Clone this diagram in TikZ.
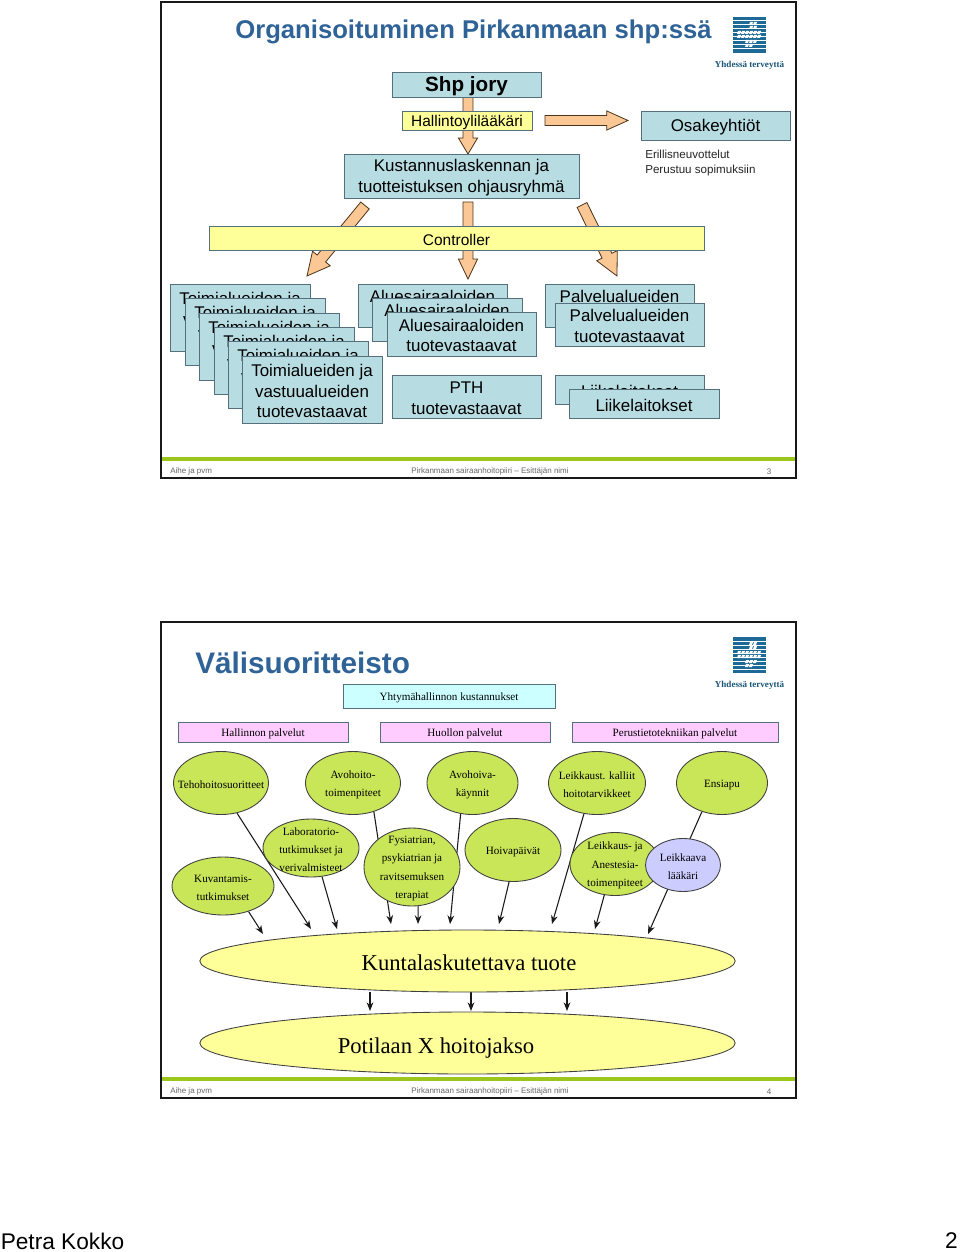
\documentclass[tikz,border=0pt]{standalone}
\usepackage{fontspec}
\setmainfont{Liberation Sans}
\newfontfamily\serifx{Liberation Serif}
\usetikzlibrary{shapes.geometric,arrows.meta,calc}
\pgfdeclarelayer{back}
\pgfsetlayers{back,main}
\definecolor{tealbox}{HTML}{B7DDE2}
\definecolor{boxedge}{HTML}{54707C}
\definecolor{yellowbox}{HTML}{FFFF99}
\definecolor{orangearrow}{HTML}{FAC795}
\definecolor{titleblue}{HTML}{2F6397}
\definecolor{logoblue}{HTML}{1E6A96}
\definecolor{barGreen}{HTML}{9CC61B}
\definecolor{ellgreen}{HTML}{C8E658}
\definecolor{lilac}{HTML}{CCCCFF}
\definecolor{pinkbox}{HTML}{FFCCFF}
\definecolor{cyanbox}{HTML}{CCFFFF}
\newcommand{\tealfont}{\fontsize{12.7}{15.4}\selectfont}
\newcommand{\yellfont}{\fontsize{11.6}{14}\selectfont}
\newcommand{\thinserif}{\serifx\fontsize{8.35}{10}\selectfont}
\tikzset{
  x=.75pt,y=-.75pt,
  boxshape/.style={draw=boxedge,line width=.65pt,rectangle,inner sep=0pt},
  boxtext/.style={inner sep=0pt,align=center,text=black},
  ovaltext/.style={align=center,inner sep=0pt,font=\serifx\fontsize{8.35}{13.8}\selectfont},
  oval/.style={draw=black!75,line width=.65pt,ellipse,inner sep=0pt,fill=ellgreen},
  bigoval/.style={draw=black!75,line width=.65pt,ellipse,inner sep=0pt,fill=yellowbox},
  bigtext/.style={inner sep=0pt,font=\serifx\fontsize{17}{20}\selectfont},
  thinarrow/.style={draw=black!90,line width=.8pt,-{Stealth[length=6.5pt,width=5pt]}},
  blockarrow/.style={draw=black!60!brown,line width=.6pt,fill=orangearrow},
  frame/.style={draw=black!90,line width=1.5pt},
  foot/.style={inner sep=0pt,text=black!60,font=\fontsize{6}{7}\selectfont},
  smalltext/.style={inner sep=0pt,anchor=base west,font=\fontsize{8.7}{10.5}\selectfont,text=black!85},
  logotext/.style={inner sep=0pt,text=logoblue!80!black,font=\serifx\bfseries\fontsize{6.8}{8}\selectfont}
}
% name, x1,y1,x2,y2, fill, font, text
\newcommand{\rbox}[8]{\node[boxshape,fill=#6,minimum width={(#4-#2)*.75pt},minimum height={(#5-#3)*.75pt}] (#1) at ({(#2+#4)/2},{(#3+#5)/2}) {};
  \node[boxtext,font=#7] (#1-t) at ({(#2+#4)/2},{(#3+#5)/2+1.6}) {#8};}
\newcommand{\ovalnode}[7]{\node[#6,minimum width={#4*.75pt},minimum height={#5*.75pt}] (#1) at (#2,#3) {};\node[ovaltext] (#1-t) at (#2,#3+1.6) {#7};}
% tail, tip, half shaft, half head, head length
\newcommand{\blockarr}[5]{\coordinate (H) at ($(#2)!#5!(#1)$);
  \path[blockarrow] ($(#1)!#3!90:(#2)$) -- ($(H)!#3!-90:(#1)$) -- ($(H)!#4!-90:(#1)$) -- (#2) -- ($(H)!#4!90:(#1)$) -- ($(H)!#3!90:(#1)$) -- ($(#1)!#3!-90:(#2)$) -- cycle;}
\newcommand{\logomark}[2]{%
  \fill[logoblue] (#1,#2) rectangle ++(33,36);
  \foreach \yy in {3.5,7.5,...,33.5}{\fill[white] (#1,#2+\yy) rectangle ++(33,.8);}
  \foreach \px/\py in {17/5,21/5,17/9,21/9,5/14,9/14,13/14,17/14,21/14,25/14,5/18,9/18,13/18,17/18,21/18,25/18,13/23,17/23,21/23,13/27,17/27}{
    \fill[white] (#1+\px,#2+\py) -- ++(3,0) -- ++(-1,3) -- ++(-3,0) -- cycle;}
  \node[logotext] at (#1+16.5,#2+48) {Yhdessä terveyttä};}
\begin{document}
\begin{tikzpicture}
\useasboundingbox (0,0) rectangle (960,1252);
\begin{pgfonlayer}{back}
\fill[white] (0,0) rectangle (960,1252);
\fill[barGreen] (162,457) rectangle (795,461);
\fill[barGreen] (162,1077) rectangle (795,1081);
\end{pgfonlayer}

% ---------- slide 1
\draw[frame] (161,2) rectangle (796,478);
\node[inner sep=0pt,text=titleblue,font=\bfseries\fontsize{19.25}{23}\selectfont] (title1) at (473.5,32) {Organisoituminen Pirkanmaan shp:ssä};
\logomark{733}{17}

\rbox{shp}{392}{72}{541}{97}{tealbox}{\bfseries\fontsize{15.5}{18}\selectfont}{Shp jory}
\rbox{hall}{402}{111}{532}{130}{yellowbox}{\yellfont}{Hallintoylilääkäri}
\rbox{osak}{641}{111}{790}{140}{tealbox}{\tealfont}{Osakeyhtiöt}
\rbox{kust}{344}{154}{579}{198}{tealbox}{\tealfont}{Kustannuslaskennan ja\\tuotteistuksen ohjausryhmä}
\rbox{ctrl}{209}{226}{704}{250}{yellowbox}{\yellfont}{Controller}
\node[smalltext] (eri) at (645,159) {Erillisneuvottelut};
\node[smalltext] (per) at (645,173) {Perustuu sopimuksiin};

\coordinate (s1) at (468,97);   \coordinate (e1) at (468,154);
\coordinate (s2) at (545,120.5);\coordinate (e2) at (628,120.5);
\coordinate (s3) at (468,202);  \coordinate (e3) at (468,279);
\coordinate (s4) at (365,205.5);\coordinate (e4) at (307,276);
\coordinate (s5) at (582,205);  \coordinate (e5) at (617,276);
\begin{pgfonlayer}{back}
\blockarr{s1}{e1}{3.7pt}{7.2pt}{12pt}
\blockarr{s2}{e2}{3.7pt}{7.2pt}{16pt}
\blockarr{s3}{e3}{3.7pt}{7.2pt}{15pt}
\blockarr{s4}{e4}{4.1pt}{8.6pt}{17pt}
\blockarr{s5}{e5}{4.1pt}{8.6pt}{17pt}
\end{pgfonlayer}

\newcommand{\toimi}{Toimialueiden ja\\vastuualueiden\\tuotevastaavat}
\rbox{t1}{170}{284}{310}{351}{tealbox}{\tealfont}{\toimi}
\rbox{t2}{185}{298}{325}{365}{tealbox}{\tealfont}{\toimi}
\rbox{t3}{199}{313}{339}{380}{tealbox}{\tealfont}{\toimi}
\rbox{t4}{214}{327}{354}{394}{tealbox}{\tealfont}{\toimi}
\rbox{t5}{228}{341}{368}{408}{tealbox}{\tealfont}{\toimi}
\rbox{t6}{242}{356}{382}{423}{tealbox}{\tealfont}{\toimi}
\newcommand{\alue}{Aluesairaaloiden\\tuotevastaavat}
\rbox{a1}{358}{284}{507}{327}{tealbox}{\tealfont}{\alue}
\rbox{a2}{372}{298}{522}{341}{tealbox}{\tealfont}{\alue}
\rbox{a3}{387}{312}{536}{356}{tealbox}{\tealfont}{\alue}
\rbox{pth}{392}{375}{541}{418}{tealbox}{\tealfont}{PTH\\tuotevastaavat}
\newcommand{\palv}{Palvelualueiden\\tuotevastaavat}
\rbox{p1}{545}{284}{694}{327}{tealbox}{\tealfont}{\palv}
\rbox{p2}{555}{303}{704}{346}{tealbox}{\tealfont}{\palv}
\rbox{l1}{555}{375}{704}{404}{tealbox}{\tealfont}{Liikelaitokset}
\rbox{l2}{569}{389}{719}{418}{tealbox}{\tealfont}{Liikelaitokset}

\node[foot,anchor=west] (f1a) at (170,471.5) {Aihe ja pvm};
\node[foot] (f1b) at (490,471) {Pirkanmaan sairaanhoitopiiri -- Esittäjän nimi};
\node[foot] (f1c) at (769,472) {3};

% ---------- slide 2
\draw[frame] (161,622) rectangle (796,1098);
\node[inner sep=0pt,anchor=west,text=titleblue,font=\bfseries\fontsize{22.3}{26}\selectfont] (title2) at (195,663) {Välisuoritteisto};
\logomark{733}{637}

\rbox{yht}{343}{684}{555}{708}{cyanbox}{\thinserif}{Yhtymähallinnon kustannukset}
\rbox{hp}{178}{722}{348}{742}{pinkbox}{\thinserif}{Hallinnon palvelut}
\rbox{hu}{380}{722}{550}{742}{pinkbox}{\thinserif}{Huollon palvelut}
\rbox{pe}{572}{722}{778}{742}{pinkbox}{\thinserif}{Perustietotekniikan palvelut}

\ovalnode{teho}{221}{783}{95}{63}{oval}{Tehohoitosuoritteet}
\ovalnode{avot}{353}{783}{95}{63}{oval}{Avohoito-\\toimenpiteet}
\ovalnode{avok}{472.5}{783}{91}{63}{oval}{Avohoiva-\\käynnit}
\ovalnode{leik}{597}{783}{97}{63}{oval}{Leikkaust. kalliit\\hoitotarvikkeet}
\ovalnode{ensi}{722}{783}{91}{63}{oval}{Ensiapu}
\ovalnode{kuva}{223}{886}{102}{58}{oval}{Kuvantamis-\\tutkimukset}
\ovalnode{labo}{311}{848}{96}{58}{oval}{Laboratorio-\\tutkimukset ja\\verivalmisteet}
\ovalnode{fysi}{412}{867}{96}{78}{oval}{Fysiatrian,\\psykiatrian ja\\ravitsemuksen\\terapiat}
\ovalnode{hoiv}{513}{850}{96}{63}{oval}{Hoivapäivät}
\ovalnode{lkau}{615}{864}{90}{63}{oval}{Leikkaus- ja\\Anestesia-\\toimenpiteet}
\ovalnode{lkav}{683}{865}{75}{53}{oval,fill=lilac}{Leikkaava\\lääkäri}
\node[bigoval,minimum width=401.5pt,minimum height=46.5pt] (kunta) at (467.5,961) {};
\node[bigtext] (kunta-t) at (469,963) {Kuntalaskutettava tuote};
\node[bigoval,minimum width=401.5pt,minimum height=46.5pt] (poti) at (467.5,1043) {};
\node[bigtext] (poti-t) at (436,1048) {Potilaan X hoitojakso};

\coordinate (k1) at (311,929); \coordinate (k2) at (391,924); \coordinate (k3) at (450,924);
\coordinate (k4) at (552,924); \coordinate (k5) at (648,934); \coordinate (k6) at (263,934);
\coordinate (k7) at (337,929); \coordinate (k8) at (418,924); \coordinate (k9) at (499,924);
\coordinate (k10) at (595,929);
\begin{pgfonlayer}{back}
\draw[thinarrow] (teho.-62) -- (k1);
\draw[thinarrow] (avot.-54) -- (k2);
\draw[thinarrow] (avok.-111) -- (k3);
\draw[thinarrow] (leik.-113) -- (k4);
\draw[thinarrow] (ensi.-125) -- (k5);
\draw[thinarrow] (kuva.-45) -- (k6);
\draw[thinarrow] (labo.-69) -- (k7);
\draw[thinarrow] (fysi.-81) -- (k8);
\draw[thinarrow] (hoiv.-97) -- (k9);
\draw[thinarrow] (lkau.-109) -- (k10);
\coordinate (d1a) at (370,992); \coordinate (d1b) at (370,1011);
\coordinate (d2a) at (471,992); \coordinate (d2b) at (471,1011);
\coordinate (d3a) at (567,992); \coordinate (d3b) at (567,1011);
\draw[thinarrow] (d1a) -- (d1b);
\draw[thinarrow] (d2a) -- (d2b);
\draw[thinarrow] (d3a) -- (d3b);
\end{pgfonlayer}

\node[foot,anchor=west] (f2a) at (170,1091.5) {Aihe ja pvm};
\node[foot] (f2b) at (490,1091) {Pirkanmaan sairaanhoitopiiri -- Esittäjän nimi};
\node[foot] (f2c) at (769,1092) {4};

\node[inner sep=0pt,anchor=west,font=\fontsize{17}{20}\selectfont] (who) at (0.5,1241) {Petra Kokko};
\node[inner sep=0pt,anchor=east,font=\fontsize{17}{20}\selectfont] (pg) at (958,1241) {2};
\end{tikzpicture}
\end{document}
